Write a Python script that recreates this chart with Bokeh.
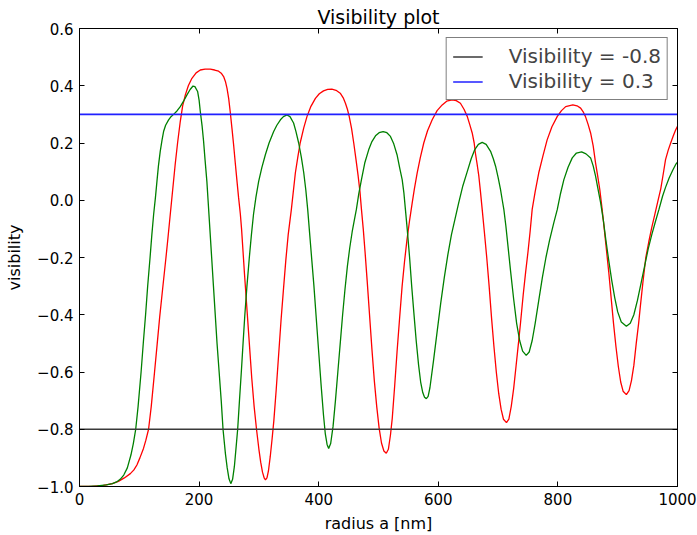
from bokeh.plotting import figure
from bokeh.models import Range1d, FixedTicker, LinearAxis, Legend, LegendItem
from bokeh.embed import file_html
from bokeh.resources import INLINE

# Visibility curves sampled along the radius a [nm]
radius_green = [
    0, 15, 30, 45, 55, 62, 68, 74, 80, 86, 90, 94, 98, 103, 107, 110.5, 114, 118,
    121, 124, 127, 129.5, 132, 135, 138, 140.6, 144, 149, 153, 157.3, 163, 168.5,
    174, 179.7, 185, 189.8, 193, 197.5, 200, 202, 205, 207.5, 210, 213, 215, 218,
    221, 224, 227, 230, 233.5, 237, 240, 244, 247, 250, 253, 256, 259, 262, 264.5,
    267.5, 270.6, 273.5, 276.5, 280, 284, 287.5, 291, 295, 299.6, 305, 310.8, 317,
    324.7, 330, 336, 341, 347, 352, 358, 362, 366.5, 371, 375, 378.5, 381.6, 385,
    388.5, 392, 396, 400, 404, 408, 411, 414, 416.7, 420, 424, 428, 432, 436, 440,
    444, 448, 452, 456, 459.5, 463, 467, 471.5, 477, 483.7, 489, 495, 501, 507.8,
    514, 520, 525.5, 531, 535.5, 539.6, 542.5, 545, 548, 552, 555.5, 559, 563, 567,
    570.5, 574, 577, 580, 583, 586, 592, 598, 604, 610, 616, 622, 628, 634, 641,
    648.4, 655, 661, 667, 673.4, 680, 687.4, 692, 695.8, 700, 704, 707, 709.6, 713,
    717, 721, 726, 731, 736, 741, 747, 752, 757, 762, 768, 774, 780, 786, 793, 799,
    804, 810, 817, 824, 831, 839.7, 847, 854.7, 859, 863, 867, 871.5, 876, 880,
    885, 890, 895, 900, 906, 914.5, 921, 927, 933, 939, 945, 951, 957, 963, 969,
    975, 980, 986, 992, 997, 1000]
vis_green = [
    -1.0, -0.9995, -0.998, -0.994, -0.99, -0.984, -0.975, -0.96, -0.935, -0.89,
    -0.85, -0.8, -0.72, -0.6, -0.49, -0.4, -0.3, -0.2, -0.12, -0.049, 0.01, 0.066,
    0.12, 0.171, 0.21, 0.24, 0.262, 0.281, 0.292, 0.3, 0.312, 0.327, 0.346, 0.368,
    0.387, 0.399, 0.397, 0.38, 0.35, 0.31, 0.26, 0.206, 0.14, 0.066, 0.0, -0.1,
    -0.2, -0.3, -0.4, -0.5, -0.6, -0.7, -0.8, -0.885, -0.935, -0.973, -0.99,
    -0.975, -0.93, -0.86, -0.8, -0.7, -0.6, -0.5, -0.4, -0.3, -0.2, -0.12, -0.049,
    0.01, 0.066, 0.115, 0.159, 0.2, 0.24, 0.262, 0.281, 0.292, 0.298, 0.292, 0.27,
    0.24, 0.2, 0.15, 0.096, 0.035, -0.032, -0.12, -0.21, -0.299, -0.415, -0.53,
    -0.645, -0.75, -0.815, -0.853, -0.867, -0.85, -0.79, -0.7, -0.6, -0.5, -0.4,
    -0.31, -0.23, -0.165, -0.11, -0.07, -0.032, 0.022, 0.072, 0.13, 0.177, 0.205,
    0.225, 0.236, 0.24, 0.236, 0.223, 0.197, 0.159, 0.112, 0.072, 0.025, -0.032,
    -0.1, -0.2, -0.3, -0.39, -0.49, -0.575, -0.635, -0.672, -0.688, -0.693,
    -0.685, -0.655, -0.56, -0.46, -0.36, -0.27, -0.19, -0.12, -0.065, -0.01, 0.05,
    0.1, 0.145, 0.177, 0.195, 0.202, 0.195, 0.171, 0.145, 0.119, 0.08, 0.038, 0.0,
    -0.032, -0.09, -0.17, -0.25, -0.345, -0.43, -0.49, -0.527, -0.542, -0.53,
    -0.49, -0.43, -0.35, -0.27, -0.2, -0.14, -0.08, -0.032, 0.02, 0.072, 0.115,
    0.148, 0.165, 0.169, 0.162, 0.148, 0.12, 0.084, 0.04, -0.009, -0.07, -0.136,
    -0.21, -0.28, -0.34, -0.39, -0.425, -0.44, -0.43, -0.4, -0.35, -0.29, -0.23,
    -0.17, -0.12, -0.075, -0.032, 0.014, 0.045, 0.078, 0.105, 0.125, 0.133]

radius_red = [
    0, 20, 40, 55, 65, 75, 85, 91, 96, 101, 107, 111, 115.5, 120, 125.5, 130, 134,
    139, 144.6, 148, 151.8, 156, 160, 164, 168.5, 172.5, 177, 182, 188, 195, 202,
    210, 218.7, 226, 232.6, 237, 241, 244, 246.7, 249.5, 252, 255, 257.7, 260.5,
    263.4, 266, 269, 271, 273.5, 276, 280, 284, 288, 292, 296, 300, 303, 306, 309,
    311, 313.5, 316, 319, 322, 325, 329, 333, 337, 341.5, 345, 349, 354.3, 361,
    365, 369, 375, 380.5, 387, 394.5, 401, 408, 415, 422, 429, 436, 441, 444.7,
    448, 451, 455, 458.6, 462.5, 466, 469, 471.5, 474.5, 477.5, 481, 485, 489, 493,
    497, 501, 505, 509, 513, 516.5, 520, 523, 527, 531, 535, 539.5, 543.5, 547.5,
    552, 556.3, 560, 564.7, 570, 575.7, 582, 589.8, 598, 606.5, 614, 623, 630, 637,
    643, 648.4, 652.5, 656.7, 660, 662, 665, 667.8, 670.5, 673.4, 677, 681, 685,
    689, 693, 697, 701, 705, 709, 714, 718, 722, 726, 730, 734, 737.6, 742, 746,
    750, 753.5, 757, 762, 768, 775, 782, 790, 799, 806, 813, 825, 832, 838, 842,
    846, 850.5, 854.7, 859, 863, 866.5, 870, 874, 877.5, 881, 885, 889, 893, 897,
    901, 905, 909, 914.5, 919, 923, 927, 931, 935, 938, 942, 947, 952, 957, 962,
    967, 972, 976, 980, 984.5, 988.6, 993, 997, 1000]
vis_red = [
    -1.0, -0.9993, -0.996, -0.99, -0.982, -0.97, -0.955, -0.942, -0.925, -0.9,
    -0.867, -0.838, -0.8, -0.72, -0.6, -0.5, -0.41, -0.31, -0.2, -0.13, -0.049,
    0.04, 0.125, 0.2, 0.275, 0.33, 0.368, 0.4, 0.426, 0.445, 0.455, 0.458, 0.458,
    0.455, 0.451, 0.444, 0.432, 0.415, 0.391, 0.355, 0.31, 0.25, 0.194, 0.13,
    0.066, 0.01, -0.049, -0.1, -0.18, -0.26, -0.38, -0.5, -0.62, -0.72, -0.8,
    -0.87, -0.915, -0.95, -0.971, -0.977, -0.97, -0.945, -0.895, -0.835, -0.77,
    -0.66, -0.54, -0.42, -0.3, -0.21, -0.12, -0.032, 0.096, 0.15, 0.2, 0.253,
    0.293, 0.328, 0.356, 0.372, 0.382, 0.387, 0.388, 0.384, 0.374, 0.358, 0.339,
    0.318, 0.293, 0.25, 0.2, 0.14, 0.084, 0.03, -0.032, -0.1, -0.18, -0.28, -0.4,
    -0.52, -0.63, -0.72, -0.795, -0.848, -0.876, -0.884, -0.87, -0.82, -0.762,
    -0.65, -0.53, -0.42, -0.3, -0.215, -0.14, -0.07, -0.01, 0.04, 0.096, 0.15,
    0.2, 0.243, 0.281, 0.313, 0.333, 0.346, 0.351, 0.348, 0.339, 0.318, 0.293,
    0.265, 0.235, 0.2, 0.165, 0.125, 0.084, 0.03, -0.032, -0.11, -0.2, -0.3, -0.41,
    -0.51, -0.6, -0.675, -0.73, -0.765, -0.777, -0.765, -0.72, -0.658, -0.58,
    -0.5, -0.426, -0.33, -0.252, -0.18, -0.11, -0.032, 0.03, 0.096, 0.155, 0.211,
    0.257, 0.293, 0.313, 0.327, 0.333, 0.33, 0.322, 0.31, 0.293, 0.265, 0.235,
    0.19, 0.13, 0.085, 0.038, -0.032, -0.1, -0.17, -0.25, -0.34, -0.43, -0.51,
    -0.58, -0.635, -0.667, -0.679, -0.665, -0.63, -0.577, -0.5, -0.43, -0.368,
    -0.29, -0.2, -0.145, -0.095, -0.05, -0.005, 0.04, 0.09, 0.142, 0.175, 0.2,
    0.225, 0.246, 0.258]

# Reference visibility levels
ref_levels = [-0.8, 0.3]
ref_labels = ["Visibility = -0.8", "Visibility = 0.3"]
ref_colors = ["#3a3a3a", "#2020ff"]
x_extent = [0, 1000]

x_ticks = [0, 200, 400, 600, 800, 1000]
y_ticks = [-1.0, -0.8, -0.6, -0.4, -0.2, 0.0, 0.2, 0.4, 0.6]
y_tick_labels = ["\u22121.0", "\u22120.8", "\u22120.6", "\u22120.4", "\u22120.2",
                 "0.0", "0.2", "0.4", "0.6"]

FONT = "DejaVu Sans"

p = figure(width=697, height=535, output_backend="svg", toolbar_location=None,
           x_range=Range1d(0, 1000), y_range=Range1d(-1.0, 0.6),
           min_border_left=79, min_border_right=20, min_border_top=28,
           min_border_bottom=47, title="Visibility plot")
p.background_fill_color = "white"
p.border_fill_color = "white"
p.outline_line_color = "black"
p.outline_line_width = 1
p.xgrid.visible = False
p.ygrid.visible = False

p.title.align = "center"
p.title.text_font = FONT
p.title.text_font_size = "19px"
p.title.text_font_style = "normal"
p.title.text_color = "black"
p.title.standoff = 2

def style_axis(ax, show_labels):
    ax.major_tick_in = 5
    ax.major_tick_out = 0
    ax.minor_tick_line_color = None
    ax.axis_line_color = "black"
    ax.major_tick_line_color = "black"
    ax.major_label_text_font = FONT
    ax.major_label_text_font_size = "15px" if show_labels else "0px"
    ax.major_label_text_color = "black"
    ax.axis_label_text_font = FONT
    ax.axis_label_text_font_size = "16px"
    ax.axis_label_text_font_style = "normal"
    ax.axis_label_text_color = "black"

xax = p.xaxis[0]
xax.ticker = FixedTicker(ticks=x_ticks)
xax.axis_label = "radius a [nm]"
xax.major_label_standoff = 6
xax.axis_label_standoff = 6
style_axis(xax, True)

yax = p.yaxis[0]
yax.ticker = FixedTicker(ticks=y_ticks)
yax.major_label_overrides = dict(zip(y_ticks, y_tick_labels))
yax.axis_label = "visibility"
yax.major_label_standoff = 6
yax.axis_label_standoff = 10
style_axis(yax, True)

top_ax = LinearAxis(ticker=FixedTicker(ticks=x_ticks), major_label_text_alpha=0)
style_axis(top_ax, False)
p.add_layout(top_ax, "above")
right_ax = LinearAxis(ticker=FixedTicker(ticks=y_ticks), major_label_text_alpha=0)
style_axis(right_ax, False)
p.add_layout(right_ax, "right")

p.line(radius_red, vis_red, line_color="#ff0000", line_width=1.3)
p.line(radius_green, vis_green, line_color="#008000", line_width=1.3)

items = []
for level, label, color in zip(ref_levels, ref_labels, ref_colors):
    r = p.line(x_extent, [level, level], line_color=color, line_width=1.6)
    items.append(LegendItem(label=label, renderers=[r]))

legend = Legend(items=items, location="top_right", margin=9, padding=6,
                spacing=1, label_height=23, glyph_width=30, glyph_height=23,
                label_standoff=26, label_text_font=FONT, label_text_font_size="20px",
                border_line_color="black", border_line_width=1,
                background_fill_color="white", background_fill_alpha=1)
p.add_layout(legend, "center")

open("out.html", "w").write(file_html(p, INLINE))
